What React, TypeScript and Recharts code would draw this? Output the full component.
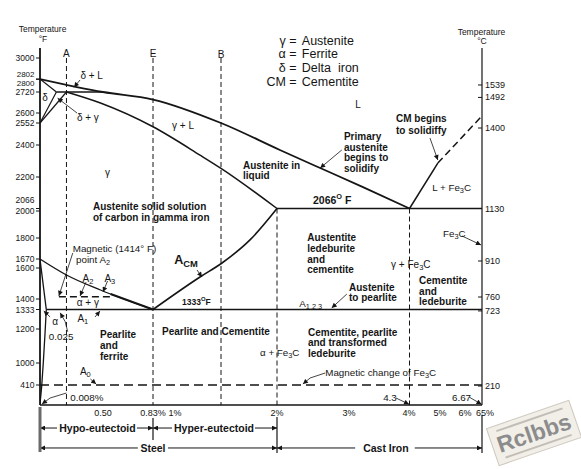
import React from 'react';
import { ComposedChart, Line, XAxis, YAxis, ReferenceLine, ReferenceDot } from 'recharts';

type Pt = [number, number]; // [carbon %, temperature °F]
type Note = { c: number; t: number; text: string };

// The printed scales are hand drawn, so both axes are piecewise: value -> distance along the axis
const CARBON_STOPS: Pt[] = [[0, 0], [0.5, 63], [0.83, 113], [1, 137], [2, 237], [3, 309], [4, 365], [4.3, 369.5], [5, 400], [6, 425], [6.67, 442]];
const TEMP_STOPS: Pt[] = [[0, 0], [410, 20], [1000, 42], [1200, 76], [1333, 95.5], [1400, 106], [1600, 137], [1670, 146], [1800, 167], [2000, 194], [2066, 196.5], [2200, 228], [2400, 260], [2552, 282], [2600, 292], [2720, 313], [2802, 326], [3000, 347], [3100, 357]];

// phase boundaries
const LIQUIDUS: Pt[] = [[0, 2802], [0.5, 2720], [0.83, 2677], [1.44, 2552], [2.04, 2369], [2.6, 2256], [3.25, 2157], [4.3, 2066]];
const SOLIDUS: Pt[] = [[0.21, 2720], [0.48, 2657], [0.83, 2526], [1.23, 2337], [1.44, 2254], [2, 2066]];
const DELTA_SOLIDUS: Pt[] = [[0, 2802], [0.13, 2720]];
const DELTA_UPPER: Pt[] = [[0, 2552], [0.13, 2720]];
const DELTA_LOWER: Pt[] = [[0, 2552], [0.21, 2720]];
const PERITECTIC: Pt[] = [[0.13, 2720], [0.5, 2720]];
const A3_LINE: Pt[] = [[0, 1670], [0.21, 1555], [0.48, 1458], [0.83, 1333]];
const A3_BOLD: Pt[] = [[0.55, 1432], [0.83, 1333]];
const ALPHA_UPPER: Pt[] = [[0, 1670], [0.05, 1333]];
const ALPHA_SOLVUS: Pt[] = [[0.05, 1333], [0.04, 1176], [0.026, 1000], [0.013, 369], [0, 20]];
const ACM: Pt[] = [[0.83, 1333], [1.23, 1542], [1.45, 1639], [1.73, 1788], [2, 2066]];
const EUTECTIC: Pt[] = [[2, 2066], [6.67, 2066]];
const EUTECTOID: Pt[] = [[0.05, 1333], [6.67, 1333]];
const CM_LIQUIDUS: Pt[] = [[4.3, 2066], [4.95, 2287]];
const CM_LIQUIDUS_EXT: Pt[] = [[4.95, 2287], [6.67, 2586]];
const MAGNETIC_A2: Pt[] = [[0.15, 1414], [0.55, 1414]];
const MAGNETIC_A0: Pt[] = [[0, 410], [6.67, 410]];

// dashed composition guides [carbon, top °F]
const GUIDES: Pt[] = [[0.21, 3000], [0.83, 3000], [1.44, 3000], [2, 2066], [4.3, 2066]];

const LEFT_TICKS_F = [3000, 2802, 2800, 2720, 2600, 2552, 2400, 2200, 2066, 2000, 1800, 1670, 1600, 1400, 1333, 1200, 1000, 410];
const RIGHT_TICKS_C = [1539, 1492, 1400, 1130, 910, 760, 723, 210];
const X_TICKS = [0.5, 0.83, 1, 2, 3, 4, 5, 6, 6.67];
const X_TICK_LABELS = ['0.50', '0.83%', '1%', '2%', '3%', '4%', '5%', '6%', '65%'];

const LEGEND_SYMBOLS = ['γ', 'α', 'δ', 'CM'];
const LEGEND_NAMES = ['Austenite', 'Ferrite', 'Delta  iron', 'Cementite'];
const LEGEND_TEMPS = [3170, 3040, 2906, 2783];
const LEGEND_C = 2.22;

const BOLD_NOTES: Note[] = [
  { c: 0.42, t: 2077, text: 'Austenite solid solution' },
  { c: 0.42, t: 1956, text: 'of carbon in gamma iron' },
  { c: 1.66, t: 2277, text: 'Austenite in' },
  { c: 1.66, t: 2212, text: 'liquid' },
  { c: 2.93, t: 2465, text: 'Primary' },
  { c: 2.93, t: 2390, text: 'austenite' },
  { c: 2.93, t: 2325, text: 'begins to' },
  { c: 2.93, t: 2259, text: 'solidify' },
  { c: 3.84, t: 2575, text: 'CM begins' },
  { c: 3.84, t: 2502, text: 'to solidiffy' },
  { c: 2.42, t: 1807, text: 'Austentite' },
  { c: 2.42, t: 1738, text: 'ledeburite' },
  { c: 2.42, t: 1670, text: 'and' },
  { c: 2.42, t: 1594, text: 'cementite' },
  { c: 4.52, t: 1523, text: 'Cementite' },
  { c: 4.52, t: 1452, text: 'and' },
  { c: 4.52, t: 1387, text: 'ledeburite' },
  { c: 3.0, t: 1480, text: 'Austenite' },
  { c: 3.0, t: 1410, text: 'to pearlite' },
  { c: 0.476, t: 1168, text: 'Pearlite' },
  { c: 0.476, t: 1106, text: 'and' },
  { c: 0.476, t: 1042, text: 'ferrite' },
  { c: 0.894, t: 1188, text: 'Pearlite and Cementite' },
  { c: 2.43, t: 1185, text: 'Cementite, pearlite' },
  { c: 2.43, t: 1123, text: 'and transformed' },
  { c: 2.43, t: 1060, text: 'ledeburite' },
];

const THIN_CENTERED: Note[] = [
  { c: 0.41, t: 2840, text: 'δ + L' },
  { c: 0.04, t: 2691, text: 'δ' },
  { c: 0.38, t: 2581, text: 'δ + γ' },
  { c: 1.06, t: 2538, text: 'γ + L' },
  { c: 3.16, t: 2651, text: 'L' },
  { c: 0.53, t: 2231, text: 'γ' },
  { c: 4.33, t: 1631, text: 'γ + Fe_{3}C' },
  { c: 0.38, t: 1535, text: 'A_{2}' },
  { c: 0.545, t: 1535, text: 'A_{3}' },
  { c: 0.38, t: 1381, text: 'α + γ' },
  { c: 0.34, t: 1275, text: 'A_{1}' },
  { c: 0.12, t: 1255, text: 'α' },
  { c: 0.36, t: 785, text: 'A_{0}' },
  { c: 0.21, t: 3050, text: 'A' },
  { c: 0.83, t: 3050, text: 'E' },
  { c: 1.44, t: 3040, text: 'B' },
];

const THIN_LEFT: Note[] = [
  { c: 4.82, t: 2157, text: 'L + Fe_{3}C' },
  { c: 5.12, t: 1837, text: 'Fe_{3}C' },
  { c: 2.31, t: 1375, text: 'A_{1,2,3}' },
  { c: 0.26, t: 1738, text: 'Magnetic (1414° F)' },
  { c: 0.286, t: 1667, text: 'point  A_{2}' },
  { c: 0.07, t: 1159, text: '0.025' },
  { c: 0.24, t: 164, text: '0.008%' },
  { c: 1.83, t: 1065, text: 'α + Fe_{3}C' },
  { c: 2.67, t: 758, text: 'Magnetic change of Fe_{3}C' },
  { c: 3.61, t: 164, text: '4.3' },
  { c: 5.48, t: 164, text: '6.67' },
];

const AXIS_TITLES: Note[] = [
  { c: 0.02, t: 3290, text: 'Temperature' },
  { c: 0.024, t: 3190, text: '°F' },
  { c: 6.65, t: 3260, text: 'Temperature' },
  { c: 6.67, t: 3170, text: '°C' },
];

const SPAN_LABELS: Note[] = [
  { c: 0.456, t: -472, text: 'Hypo-eutectoid' },
  { c: 1.37, t: -472, text: 'Hyper-eutectoid' },
  { c: 0.83, t: -881, text: 'Steel' },
  { c: 3.66, t: -881, text: 'Cast Iron' },
];

const EUTECTIC_NOTE: Note = { c: 2.5, t: 2102, text: '2066^{O} F' };
const ACM_NOTE: Note = { c: 0.98, t: 1662, text: 'A_{CM}' };
const EUTECTOID_NOTE: Note = { c: 1.05, t: 1381, text: '1333^{O}F' };

// leader lines, arrow at the last point
const LEADERS: Pt[][] = [
  [[0.318, 2796], [0.27, 2750]],
  [[0.294, 2600], [0.14, 2685]],
  [[2.9, 2369], [2.6, 2256]],
  [[4.77, 2448], [4.95, 2306]],
  [[5.88, 1815], [6.63, 1757]],
  [[2.97, 1432], [2.76, 1343]],
  [[1.2, 1587], [1.25, 1542]],
  [[0.26, 1707], [0.15, 1420]],
  [[0.365, 1509], [0.318, 1420]],
  [[0.53, 1516], [0.5, 1445]],
  [[0.437, 1282], [0.476, 1323]],
  [[0.08, 1282], [0.03, 1323]],
  [[0.22, 1184], [0.2, 1250], [0.16, 1310]],
  [[0.4, 571], [0.445, 437]],
  [[0.21, 246], [0.08, 143], [0.016, 20]],
  [[2.67, 732], [2.46, 598], [2.36, 437]],
  [[3.84, 143], [4.27, 15]],
  [[6.16, 164], [6.65, 15]],
];

// range arrows under the axis
const SPAN_ARROWS: Pt[][] = [
  [[0.135, -472], [0, -472]],
  [[0.724, -472], [0.83, -472]],
  [[0.965, -472], [0.83, -472]],
  [[1.78, -472], [2, -472]],
  [[0.73, -881], [0, -881]],
  [[0.936, -881], [2, -881]],
  [[3.11, -881], [2, -881]],
  [[4.42, -881], [6.67, -881]],
];
const SPAN_BARS: Pt[][] = [
  [[0.83, -266], [0.83, -717]],
  [[2, -246], [2, -984]],
  [[6.67, -205], [6.67, -984]],
];
const STEEL_BAR: Pt[] = [[0, -41], [0, -963]];

const INK = '#151515';
const FONT = '"Liberation Sans", Arial, sans-serif';
const X_NUDGE = [0, 0, -2, 0, 0, 4, 0, 0, 3];
const LEFT_NUDGE: Record<number, number> = { 2802: -5, 2800: 4, 2066: -9, 2000: -0.5 };
const RIGHT_NUDGE: Record<number, number> = { 1539: 6, 1492: 5, 1400: 5, 910: 2, 760: -2, 723: 1.5, 210: 1 };

const interp = (stops: Pt[], v: number) => {
  let i = 0;
  while (i < stops.length - 2 && v > stops[i + 1][0]) i++;
  const [a0, b0] = stops[i];
  const [a1, b1] = stops[i + 1];
  return b0 + ((v - a0) * (b1 - b0)) / (a1 - a0);
};
const cx = (c: number) => interp(CARBON_STOPS, c);
const ty = (t: number) => interp(TEMP_STOPS, t);
const cToF = (c: number) => (c * 9) / 5 + 32;
const toXY = (pts: Pt[]) => pts.map(([c, t]) => ({ x: cx(c), y: ty(t) }));
const near = (a: number, b: number) => Math.abs(a - b) < 1e-6;

// "Fe_{3}C" -> subscript, "2066^{O}" -> superscript
const rich = (s: string, size: number) => {
  const parts = s.split(/(_\{[^}]*\}|\^\{[^}]*\})/).filter(Boolean);
  let shift = 0;
  return parts.map((p, i) => {
    if (p.startsWith('_{')) {
      const d = size * 0.3 - shift;
      shift = size * 0.3;
      return <tspan key={i} dy={d} fontSize={size * 0.75}>{p.slice(2, -1)}</tspan>;
    }
    if (p.startsWith('^{')) {
      const d = -size * 0.4 - shift;
      shift = -size * 0.4;
      return <tspan key={i} dy={d} fontSize={size * 0.7}>{p.slice(2, -1)}</tspan>;
    }
    const d = -shift;
    shift = 0;
    return <tspan key={i} dy={d}>{p}</tspan>;
  });
};

const curve = (key: string, pts: Pt[], width: number, opts: { dash?: string; smooth?: boolean } = {}) => (
  <Line
    key={key}
    data={toXY(pts)}
    dataKey="y"
    type={opts.smooth ? 'monotone' : 'linear'}
    stroke={INK}
    strokeWidth={width}
    strokeDasharray={opts.dash}
    dot={false}
    activeDot={false}
    legendType="none"
    isAnimationActive={false}
  />
);

const notes = (key: string, list: Note[], size: number, anchor: 'start' | 'middle', weight = 400) =>
  list.map((n, i) => (
    <ReferenceDot
      key={key + i}
      x={cx(n.c)}
      y={ty(n.t)}
      r={0}
      ifOverflow="visible"
      shape={(p: any) => (
        <text x={p.cx} y={p.cy} textAnchor={anchor} dominantBaseline="central" fontSize={size} fontWeight={weight} fontFamily={FONT} fill={INK}>
          {rich(n.text, size)}
        </text>
      )}
    />
  ));

const segments = (key: string, paths: Pt[][], width: number, arrow: boolean, color = INK) =>
  paths.flatMap((path, i) =>
    path.slice(1).map((end, j) => (
      <ReferenceLine
        key={`${key}${i}-${j}`}
        segment={[{ x: cx(path[j][0]), y: ty(path[j][1]) }, { x: cx(end[0]), y: ty(end[1]) }]}
        stroke={color}
        strokeWidth={width}
        ifOverflow="visible"
        markerEnd={arrow && j === path.length - 2 ? 'url(#arrowHead)' : undefined}
      />
    ))
  );

const LeftTick = ({ x, y, payload }: any) => {
  const f = LEFT_TICKS_F.find((v) => near(ty(v), payload.value));
  if (f === undefined) return null;
  const stacked = f === 2802 || f === 2800;
  return (
    <g>
      <line x1={x - 4} x2={x} y1={y} y2={y} stroke={INK} strokeWidth={1} />
      <text x={x - 5.5} y={y + (LEFT_NUDGE[f] ?? 0)} textAnchor="end" dominantBaseline="central" fontSize={stacked ? 8 : 8.5} fontFamily={FONT} fill={INK}>
        {f}
      </text>
    </g>
  );
};

const RightTick = ({ x, y, payload }: any) => {
  const c = RIGHT_TICKS_C.find((v) => near(ty(cToF(v)), payload.value));
  if (c === undefined) return null;
  const yy = y + (RIGHT_NUDGE[c] ?? 0);
  return (
    <g>
      <line x1={x - 4} x2={x} y1={yy} y2={yy} stroke={INK} strokeWidth={1} />
      <text x={x + 3} y={yy} textAnchor="start" dominantBaseline="central" fontSize={9} fontFamily={FONT} fill={INK}>
        {c}
      </text>
    </g>
  );
};

const BottomTick = ({ x, y, payload }: any) => {
  const i = X_TICKS.findIndex((v) => near(cx(v), payload.value));
  if (i < 0) return null;
  return (
    <text x={x + X_NUDGE[i]} y={y + 8} textAnchor="middle" dominantBaseline="central" fontSize={9} fontFamily={FONT} fill={INK}>
      {X_TICK_LABELS[i]}
    </text>
  );
};

const App: React.FC = () => {
  return (
    <div style={{ position: 'absolute', left: 0, top: 0, width: 581, height: 469, background: '#fff' }}>
      <ComposedChart width={581} height={469} margin={{ top: 48, right: 0, bottom: 0, left: 0 }}>
        <defs>
          <marker id="arrowHead" viewBox="0 0 10 10" refX="10" refY="5" markerWidth="6" markerHeight="5" markerUnits="userSpaceOnUse" orient="auto">
            <path d="M0,0 L10,5 L0,10 z" fill={INK} />
          </marker>
        </defs>
        <XAxis
          type="number"
          dataKey="x"
          domain={[0, 442]}
          allowDataOverflow
          ticks={X_TICKS.map(cx)}
          interval={0}
          tick={(p: any) => <BottomTick {...p} />}
          tickLine={false}
          tickSize={0}
          tickMargin={0}
          height={64}
          axisLine={{ stroke: INK, strokeWidth: 1.6 }}
        />
        <YAxis
          type="number"
          domain={[0, 357]}
          allowDataOverflow
          ticks={LEFT_TICKS_F.map(ty)}
          interval={0}
          tick={(p: any) => <LeftTick {...p} />}
          tickLine={false}
          tickSize={0}
          tickMargin={0}
          width={40}
          axisLine={{ stroke: INK, strokeWidth: 1.8 }}
        />
        <YAxis
          yAxisId="right"
          orientation="right"
          type="number"
          domain={[0, 357]}
          allowDataOverflow
          ticks={RIGHT_TICKS_C.map((c) => ty(cToF(c)))}
          interval={0}
          tick={(p: any) => <RightTick {...p} />}
          tickLine={false}
          tickSize={0}
          tickMargin={0}
          width={99}
          axisLine={{ stroke: INK, strokeWidth: 1.2 }}
        />

        {GUIDES.map(([c, top], i) => curve('g' + i, [[c, top], [c, 0]], 1, { dash: '5 3' }))}
        {curve('a0', MAGNETIC_A0, 1.5, { dash: '9 5' })}
        {curve('a2', MAGNETIC_A2, 1.5, { dash: '7 4' })}
        {curve('cmx', CM_LIQUIDUS_EXT, 1.5, { dash: '7 4' })}

        {curve('liq', LIQUIDUS, 1.8, { smooth: true })}
        {curve('sol', SOLIDUS, 1.5, { smooth: true })}
        {curve('ds', DELTA_SOLIDUS, 1.2)}
        {curve('du', DELTA_UPPER, 1.2)}
        {curve('dl', DELTA_LOWER, 1.2)}
        {curve('per', PERITECTIC, 1.5)}
        {curve('a3', A3_LINE, 1.3, { smooth: true })}
        {curve('a3b', A3_BOLD, 2.2)}
        {curve('au', ALPHA_UPPER, 1.3)}
        {curve('as', ALPHA_SOLVUS, 1.3)}
        {curve('acm', ACM, 1.6, { smooth: true })}
        {curve('eut', EUTECTIC, 1.6)}
        {curve('eud', EUTECTOID, 1.5)}
        {curve('cml', CM_LIQUIDUS, 1.5)}

        {segments('ld', LEADERS, 0.8, true)}
        {segments('sp', SPAN_ARROWS, 1, true)}
        {segments('sb', SPAN_BARS, 1.2, false)}
        {segments('st', [STEEL_BAR], 3, false, '#6a6a6a')}

        {notes('b', BOLD_NOTES, 10, 'start', 700)}
        {notes('s', SPAN_LABELS, 10.5, 'middle', 700)}
        {notes('tc', THIN_CENTERED, 10, 'middle')}
        {notes('tl', THIN_LEFT, 9.8, 'start')}
        {notes('ti', AXIS_TITLES, 8.5, 'middle')}
        {notes('eu', [EUTECTIC_NOTE], 10.5, 'start', 700)}
        {notes('cm', [ACM_NOTE], 12.5, 'start', 700)}
        {notes('e3', [EUTECTOID_NOTE], 8.5, 'start', 700)}

        {LEGEND_SYMBOLS.map((sym, i) => (
          <ReferenceDot
            key={'lg' + i}
            x={cx(LEGEND_C)}
            y={ty(LEGEND_TEMPS[i])}
            r={0}
            ifOverflow="visible"
            shape={(p: any) => (
              <g fontFamily={FONT} fontSize={12.5} fill={INK}>
                <text x={p.cx - 7} y={p.cy} textAnchor="end" dominantBaseline="central">{sym}</text>
                <text x={p.cx} y={p.cy} textAnchor="middle" dominantBaseline="central">=</text>
                <text x={p.cx + 9} y={p.cy} textAnchor="start" dominantBaseline="central" style={{ whiteSpace: 'pre' }}>{LEGEND_NAMES[i]}</text>
              </g>
            )}
          />
        ))}
      </ComposedChart>

      <div
        style={{
          position: 'absolute',
          left: 490,
          top: 413,
          width: 86,
          height: 38,
          transform: 'rotate(-19deg)',
          background: '#f2efe9',
          border: '1px solid #cfcac1',
          display: 'flex',
          flexDirection: 'column',
          alignItems: 'center',
          justifyContent: 'center',
        }}
      >
        <div style={{ width: 70, height: 2, background: '#c2beb6', marginBottom: 1 }} />
        <span style={{ fontFamily: FONT, fontWeight: 700, fontSize: 23, lineHeight: '24px', color: '#8c8c8c' }}>Rclbbs</span>
        <div style={{ width: 70, height: 2, background: '#c2beb6', marginTop: 1 }} />
      </div>
    </div>
  );
};

export default App;
